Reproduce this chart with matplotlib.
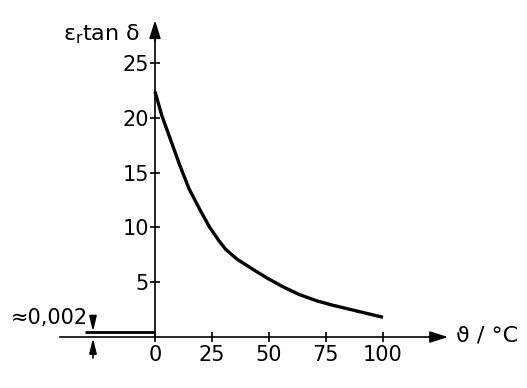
import matplotlib
matplotlib.use("Agg")
import matplotlib.pyplot as plt

# data
temp_c = [0, 3, 7, 11, 15, 20, 24, 28, 31, 36, 42, 49, 56, 63, 71, 78, 86, 93, 100]
er_tan_delta = [22.4, 20.2, 17.9, 15.6, 13.5, 11.5, 10.0, 8.8, 8.0, 7.1, 6.3,
                5.4, 4.6, 3.9, 3.3, 2.9, 2.5, 2.15, 1.8]
x_ticks = [0, 25, 50, 75, 100]
y_ticks = [5, 10, 15, 20, 25]
ice_label = "≈0,002"
x_label = "ϑ / °C"
y_label = r"$\varepsilon_{\mathrm{r}}$tan δ"

plt.rcParams['font.family'] = ['DejaVu Sans']
plt.rcParams['mathtext.fontset'] = 'dejavusans'
plt.rcParams['mathtext.default'] = 'regular'

fig = plt.figure(figsize=(5.27, 3.88), dpi=100)
ax = fig.add_axes([0, 0, 1, 1])
ax.set_xlim(-67.98, 163.16)
ax.set_ylim(-4.65, 30.75)

ax.patch.set_visible(False)
for s in ['top', 'right']:
    ax.spines[s].set_visible(False)
ax.spines['left'].set_position(('data', 0))
ax.spines['bottom'].set_position(('data', 0))
ax.spines['left'].set_bounds(0, 27.5)
ax.spines['bottom'].set_bounds(-41.7, 122)
for s in ['left', 'bottom']:
    ax.spines[s].set_linewidth(1.2)

ax.set_xticks(x_ticks)
ax.set_yticks(y_ticks)
ax.set_xticklabels([str(v) for v in x_ticks])
ax.set_yticklabels([str(v) for v in y_ticks])
ax.tick_params(axis='both', direction='inout', length=7, width=1.2,
               labelsize=15, colors='black')
ax.tick_params(axis='x', pad=2)
ax.tick_params(axis='y', pad=1)

# axis arrows
ax.annotate('', xy=(128.5, 0), xytext=(120, 0),
            arrowprops=dict(arrowstyle='-|>,head_length=1.1,head_width=0.35',
                            color='black', lw=1.2, shrinkA=0, shrinkB=0))
ax.annotate('', xy=(0, 28.9), xytext=(0, 27.0),
            arrowprops=dict(arrowstyle='-|>,head_length=1.1,head_width=0.35',
                            color='black', lw=1.2, shrinkA=0, shrinkB=0))

# curve
ax.plot(temp_c, er_tan_delta, color='black', lw=2.4, solid_capstyle='butt',
        solid_joinstyle='round', clip_on=False)

# value below 0 °C (exaggerated level)
ax.plot([-30.7, 0], [0.45, 0.45], color='black', lw=2.0, solid_capstyle='butt')
ax.annotate('', xy=(-27.2, 0.5), xytext=(-27.2, 1.9),
            arrowprops=dict(arrowstyle='-|>,head_length=0.9,head_width=0.22',
                            color='black', lw=1.2, shrinkA=0, shrinkB=0))
ax.annotate('', xy=(-27.2, -0.1), xytext=(-27.2, -1.9),
            arrowprops=dict(arrowstyle='-|>,head_length=0.9,head_width=0.22',
                            color='black', lw=1.2, shrinkA=0, shrinkB=0))
ax.text(-29.5, 1.75, ice_label, ha='right', va='center', fontsize=15)

# axis labels
ax.text(132, 0.1, x_label, ha='left', va='center', fontsize=16)
ax.text(-6.5, 27.6, y_label, ha='right', va='center', fontsize=16)

fig.savefig('out.png', dpi=100)
